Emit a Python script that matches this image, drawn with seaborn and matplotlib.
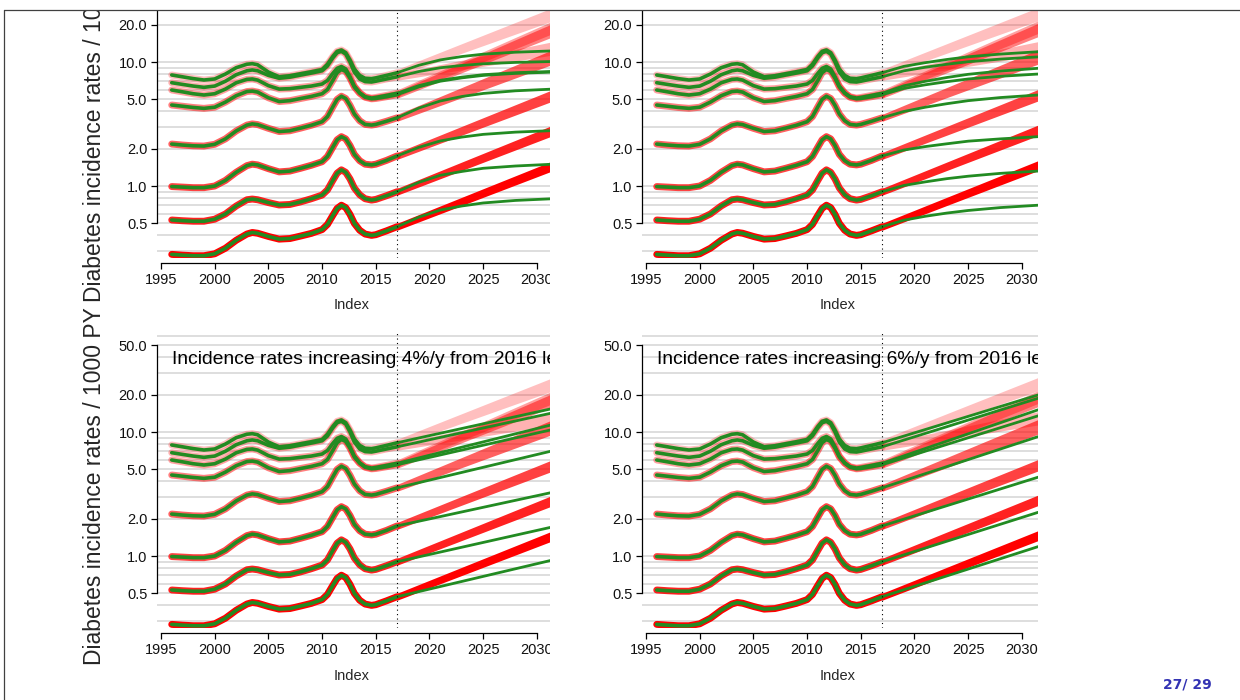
import numpy as np
import pandas as pd
import matplotlib
matplotlib.use("Agg")
import matplotlib.pyplot as plt
from matplotlib.patches import Rectangle
from matplotlib.lines import Line2D
import seaborn as sns

sns.set_theme(style="white")
plt.rcParams['font.family'] = ['Liberation Sans', 'DejaVu Sans']

# ---------------- data ----------------
years_hist = [1996, 1997, 1998, 1999, 2000, 2001, 2002, 2003, 2003.5, 2004, 2005, 2006,
              2007, 2008, 2009, 2010, 2010.5, 2011, 2011.4, 2011.8, 2012.2, 2012.6, 2013,
              2013.5, 2014, 2014.6, 2015, 2016, 2017]

hist_a = [7.86, 7.6, 7.35, 7.16, 7.3, 8.0, 9.0, 9.6, 9.7, 9.5, 8.3, 7.6, 7.75, 8.05, 8.35, 8.7,
          9.6, 11.1, 12.2, 12.5, 11.9, 10.4, 8.8, 7.8, 7.4, 7.35, 7.45, 7.8, 8.2]
hist_b = [6.81, 6.6, 6.4, 6.25, 6.4, 7.0, 7.9, 8.5, 8.63, 8.5, 7.8, 7.4, 7.55, 7.85, 8.15, 8.5,
          9.3, 10.8, 11.9, 12.2, 11.6, 10.0, 8.3, 7.3, 6.95, 6.9, 7.0, 7.3, 7.6]
hist_c = [5.95, 5.75, 5.55, 5.42, 5.55, 6.05, 6.8, 7.25, 7.3, 7.15, 6.45, 6.05, 6.1, 6.25, 6.4,
          6.65, 7.1, 8.1, 8.9, 9.2, 8.8, 7.6, 6.4, 5.65, 5.25, 5.12, 5.18, 5.38, 5.6]
hist_d = [4.50, 4.40, 4.30, 4.23, 4.32, 4.75, 5.35, 5.78, 5.83, 5.72, 5.15, 4.80, 4.88, 5.08,
          5.28, 5.55, 6.0, 7.1, 8.2, 8.7, 8.4, 7.4, 6.3, 5.6, 5.2, 5.05, 5.08, 5.25, 5.45]
hist_e = [2.18, 2.14, 2.11, 2.10, 2.17, 2.40, 2.78, 3.10, 3.17, 3.13, 2.92, 2.75, 2.79, 2.93,
          3.09, 3.30, 3.63, 4.35, 5.0, 5.3, 5.08, 4.47, 3.81, 3.36, 3.14, 3.10, 3.14, 3.33, 3.55]
hist_f = [0.99, 0.98, 0.97, 0.97, 1.0, 1.11, 1.29, 1.46, 1.50, 1.48, 1.38, 1.30, 1.32, 1.39,
          1.47, 1.57, 1.73, 2.06, 2.36, 2.50, 2.40, 2.12, 1.80, 1.60, 1.50, 1.48, 1.50, 1.61, 1.75]
hist_g = [0.532, 0.525, 0.52, 0.52, 0.54, 0.595, 0.69, 0.775, 0.785, 0.775, 0.735, 0.703, 0.71,
          0.745, 0.79, 0.845, 0.93, 1.11, 1.27, 1.35, 1.29, 1.14, 0.965, 0.85, 0.79, 0.77, 0.78,
          0.835, 0.90]
hist_h = [0.281, 0.277, 0.274, 0.274, 0.284, 0.315, 0.365, 0.41, 0.422, 0.416, 0.392, 0.373,
          0.377, 0.395, 0.415, 0.445, 0.49, 0.58, 0.66, 0.70, 0.67, 0.59, 0.50, 0.44, 0.41, 0.40,
          0.405, 0.435, 0.47]

# red (trend) projection band at its far end (2031.5): low and high edge
years_red = [2017, 2031.5]
red_end_lo = [21.5, 11.4, 17.0, 16.0, 9.6, 4.85, 2.55, 1.33]
red_end_hi = [27.5, 14.6, 21.5, 20.5, 12.6, 6.0, 3.1, 1.6]

# green projections, top-left panel (saturating)
years_sat = [2017, 2019, 2021, 2023, 2025, 2028, 2031.5]
tl_a = [8.2, 9.41, 10.4, 11.07, 11.57, 12.0, 12.3]
tl_b = [7.6, 8.38, 8.99, 9.38, 9.68, 9.93, 10.1]
tl_c = [5.6, 6.45, 7.12, 7.55, 7.9, 8.2, 8.4]
tl_d = [5.45, 6.3, 7.0, 7.45, 7.8, 8.1, 8.3]
tl_e = [3.55, 4.25, 4.85, 5.27, 5.58, 5.86, 6.05]
tl_f = [1.75, 2.05, 2.31, 2.48, 2.61, 2.72, 2.8]
tl_g = [0.90, 1.07, 1.22, 1.31, 1.39, 1.45, 1.5]
tl_h = [0.47, 0.56, 0.64, 0.69, 0.73, 0.765, 0.79]

# top-right panel (slower saturation)
tr_a = [8.2, 9.22, 9.88, 10.48, 11.02, 11.59, 12.1]
tr_b = [7.6, 8.49, 9.08, 9.59, 10.06, 10.56, 11.0]
tr_c = [5.6, 6.43, 6.99, 7.50, 7.96, 8.46, 8.9]
tr_d = [5.45, 6.12, 6.55, 6.94, 7.30, 7.67, 8.0]
tr_e = [3.55, 3.99, 4.32, 4.61, 4.88, 5.17, 5.42]
tr_f = [1.75, 1.95, 2.08, 2.19, 2.30, 2.40, 2.5]
tr_g = [0.90, 1.01, 1.08, 1.146, 1.20, 1.265, 1.32]
tr_h = [0.47, 0.53, 0.57, 0.605, 0.635, 0.67, 0.70]

# bottom panels (constant growth), value at 2031.5
years_lin = [2017, 2031.5]
bl_end = [15.5, 14.3, 11.5, 10.5, 7.07, 3.27, 1.72, 0.93]   # 4 %/y
br_end = [19.9, 18.7, 15.1, 13.5, 9.17, 4.32, 2.25, 1.19]   # 6 %/y

band_alpha = [0.25, 0.30, 0.37, 0.50, 0.62, 0.74, 0.87, 1.0]
green = '#228B22'

y_ticks = [0.5, 1, 2, 5, 10, 20, 50]
y_tick_labels = ['0.5', '1.0', '2.0', '5.0', '10.0', '20.0', '50.0']
x_ticks = [1995, 2000, 2005, 2010, 2015, 2020, 2025, 2030]
grid_values = [0.3, 0.4, 0.5, 0.6, 0.7, 0.8, 0.9, 1, 2, 3, 4, 5, 6, 7, 8, 9, 10, 20, 30, 40, 50, 60]

titles = [None, None,
          'Incidence rates increasing 4%/y from 2016 level',
          'Incidence rates increasing 6%/y from 2016 level']

# ---------------- figure ----------------
W, H = 1240, 700
fig = plt.figure(figsize=(W / 100, H / 100), dpi=100)
fig.patch.set_facecolor('white')


def rect(left, top, right, bottom):
    return [left / W, 1 - bottom / H, (right - left) / W, (bottom - top) / H]


panel_px = [(157, -37, 553, 258), (642, -37, 1038, 258),
            (157, 333, 553, 628), (642, 333, 1038, 628)]
YMIN, YMAX = 0.2627, 62.9
PX_PER_DECADE = 295 / np.log10(YMAX / YMIN)
RED_LW = 5.0
half_factor = 10 ** ((RED_LW * 100 / 72 / 2) / PX_PER_DECADE)

hists = [hist_a, hist_b, hist_c, hist_d, hist_e, hist_f, hist_g, hist_h]
tl = [tl_a, tl_b, tl_c, tl_d, tl_e, tl_f, tl_g, tl_h]
tr = [tr_a, tr_b, tr_c, tr_d, tr_e, tr_f, tr_g, tr_h]

for p, (l, t, r, b) in enumerate(panel_px):
    ax = fig.add_axes(rect(l, t, r, b))
    ax.patch.set_visible(False)
    ax.set_yscale('log')
    ax.set_xlim(1994.628, 2031.5)
    ax.set_ylim(YMIN, YMAX)

    for gv in grid_values:
        ax.axhline(gv, color='#d4d4d4', lw=1.1, zorder=0.5)

    # red bands (semi-transparent red, like the original)
    for i in range(8):
        hv = hists[i]
        c17 = hv[-1]
        ax.fill_between(years_red, [c17 / half_factor, red_end_lo[i]],
                        [c17 * half_factor, red_end_hi[i]],
                        color='red', alpha=band_alpha[i], lw=0, zorder=1)
        sns.lineplot(x=years_hist, y=hv, ax=ax, color='red', alpha=band_alpha[i],
                     linewidth=RED_LW, estimator=None, sort=False,
                     legend=False, zorder=1.5, solid_capstyle='round')
    # green lines
    for i in range(8):
        hv = hists[i]
        sns.lineplot(x=years_hist, y=hv, ax=ax, color=green, linewidth=2.6, estimator=None,
                     sort=False, legend=False, zorder=2, solid_capstyle='round')
        if p == 0:
            px, py = years_sat, tl[i]
        elif p == 1:
            px, py = years_sat, tr[i]
        elif p == 2:
            px, py = years_lin, [hv[-1], bl_end[i]]
        else:
            px, py = years_lin, [hv[-1], br_end[i]]
        sns.lineplot(x=px, y=py, ax=ax, color=green, linewidth=2.0, estimator=None,
                     sort=False, legend=False, zorder=2.2, solid_capstyle='round')

    ax.axvline(2017, color='black', lw=0.8, ls=(0, (1, 3)), zorder=3)

    if titles[p]:
        ax.text(1996, 40, titles[p], fontsize=13.85, ha='left', va='center_baseline',
                color='black', zorder=3.5)

    for s in ['top', 'right']:
        ax.spines[s].set_visible(False)
    ax.spines['left'].set_bounds(0.5, 50)
    ax.spines['bottom'].set_bounds(1995, 2030)
    ax.spines['bottom'].set_position(('outward', 3.5))
    for s in ['left', 'bottom']:
        ax.spines[s].set_color('black')
        ax.spines[s].set_linewidth(0.9)
    ax.set_yticks(y_ticks)
    ax.set_yticklabels(y_tick_labels)
    ax.yaxis.set_minor_locator(matplotlib.ticker.NullLocator())
    ax.set_xticks(x_ticks)
    ax.set_xticklabels([str(x) for x in x_ticks])
    ax.tick_params(axis='both', which='major', direction='out', length=4.5, width=0.9,
                   color='black', labelsize=10.5, labelcolor='#111111', pad=2.5,
                   left=True, bottom=True)
    ax.grid(False)
    ax.set_xlabel('')
    ax.set_ylabel('')

# axis titles
for cx in (352, 838):
    for cy in (305, 676):
        fig.text(cx / W, 1 - cy / H, 'Index', ha='center', va='center', fontsize=10.5)
for cy in (123, 486):
    fig.text(95 / W, 1 - cy / H, 'Diabetes incidence rates / 1000 PY', rotation=90,
             ha='center', va='center', fontsize=16.5)

# crop masks (the panels are clipped like in the slide)
for (x0, y0, x1, y1) in [(550, 0, 597, 700), (1038, 0, 1240, 700), (0, 0, 1240, 10.5)]:
    fig.add_artist(Rectangle((x0 / W, 1 - y1 / H), (x1 - x0) / W, (y1 - y0) / H,
                             transform=fig.transFigure, facecolor='white',
                             edgecolor='none', zorder=10))

# slide frame
fig.add_artist(Line2D([4 / W, 1], [1 - 10 / H, 1 - 10 / H], transform=fig.transFigure,
                      color='#404040', lw=0.9, zorder=20))
fig.add_artist(Line2D([4 / W, 4 / W], [0, 1 - 10 / H], transform=fig.transFigure,
                      color='#404040', lw=0.9, zorder=20))

fig.text(1187 / W, 1 - 685 / H, '27/ 29', color='#3333B3', fontsize=10, fontweight='bold',
         family=['DejaVu Sans'], ha='center', va='center', zorder=21)

fig.savefig('out.png', dpi=100, facecolor='white')
